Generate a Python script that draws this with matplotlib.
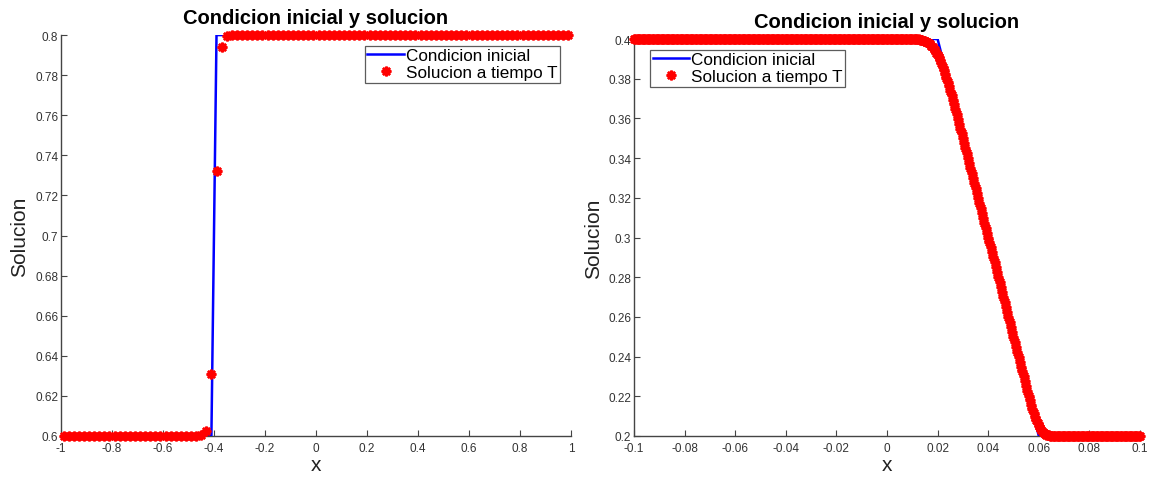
import numpy as np
import matplotlib
matplotlib.use("Agg")
import matplotlib.pyplot as plt

plt.rcParams["font.family"] = ["Liberation Sans", "DejaVu Sans"]

# left panel: discontinuity (cell centres, h = 0.02)
x_left = np.linspace(-0.99, 0.99, 100)
ic_left_x = [-0.99, -0.41, -0.39, 0.99]
ic_left_y = [0.6, 0.6, 0.8, 0.8]
sol_left = ([0.6] * 27
            + [0.6003, 0.6025, 0.631, 0.732, 0.794, 0.7993, 0.7999]
            + [0.8] * 66)

# right panel: ramp (h = 0.0005)
x_right = np.linspace(-0.1, 0.1, 401)
ic_right_x = [-0.1, 0.02, 0.06, 0.1]
ic_right_y = [0.4, 0.4, 0.2, 0.2]
ramp_top = [0.4000, 0.4000, 0.4000, 0.4000, 0.4000, 0.4000, 0.3999, 0.3999,
            0.3998, 0.3998, 0.3997, 0.3996, 0.3994, 0.3992, 0.3990, 0.3987,
            0.3983, 0.3979, 0.3974, 0.3967, 0.3960, 0.3952, 0.3943, 0.3932,
            0.3920, 0.3907, 0.3893, 0.3877, 0.3860, 0.3842, 0.3824, 0.3804,
            0.3783, 0.3762, 0.3740, 0.3717, 0.3694, 0.3671, 0.3647, 0.3623,
            0.3598, 0.3574, 0.3549, 0.3525, 0.3500]
ramp_mid = [0.3475, 0.345, 0.3425, 0.34, 0.3375, 0.335, 0.3325, 0.33,
            0.3275, 0.325, 0.3225, 0.32, 0.3175, 0.315, 0.3125, 0.31,
            0.3075, 0.305, 0.3025, 0.30, 0.2975, 0.295, 0.2925, 0.29,
            0.2875, 0.285, 0.2825, 0.28, 0.2775, 0.275, 0.2725, 0.27,
            0.2675, 0.265, 0.2625, 0.26, 0.2575, 0.255, 0.2525, 0.25,
            0.2475, 0.245, 0.2425, 0.24, 0.2375]
ramp_bot = [0.2350, 0.2325, 0.2300, 0.2275, 0.2251, 0.2227, 0.2203, 0.2180,
            0.2157, 0.2136, 0.2115, 0.2096, 0.2079, 0.2064, 0.2050, 0.2039,
            0.2029, 0.2021, 0.2015, 0.2010, 0.2007, 0.2005, 0.2003, 0.2002,
            0.2001]
sol_right = [0.4] * 216 + ramp_top + ramp_mid + ramp_bot + [0.2] * 70

left_xticks = [-1, -0.8, -0.6, -0.4, -0.2, 0, 0.2, 0.4, 0.6, 0.8, 1]
left_yticks = [0.6, 0.62, 0.64, 0.66, 0.68, 0.7, 0.72, 0.74, 0.76, 0.78, 0.8]
right_xticks = [-0.1, -0.08, -0.06, -0.04, -0.02, 0, 0.02, 0.04, 0.06, 0.08, 0.1]
right_yticks = [0.2, 0.22, 0.24, 0.26, 0.28, 0.3, 0.32, 0.34, 0.36, 0.38, 0.4]

title = "Condicion inicial y solucion"
labels = ["Condicion inicial", "Solucion a tiempo T"]
star = (8, 2, 0)

fig = plt.figure(figsize=(11.5, 4.81), dpi=100)
ax1 = fig.add_axes([0.053, 0.0915, 0.4435, 0.8335])
ax2 = fig.add_axes([0.5513, 0.0915, 0.44, 0.8253])


def style(ax, xt, yt, tpad):
    for s in ("top", "right"):
        ax.spines[s].set_visible(False)
    for s in ("left", "bottom"):
        ax.spines[s].set_color("#444444")
        ax.spines[s].set_linewidth(1.0)
    ax.set_xticks(xt)
    ax.set_yticks(yt)
    ax.set_xticklabels([f"{v:g}" for v in xt])
    ax.set_yticklabels([f"{v:g}" for v in yt])
    ax.set_xlim(xt[0], xt[-1])
    ax.set_ylim(yt[0], yt[-1])
    ax.tick_params(direction="in", length=4, width=0.8, colors="#444444",
                   labelsize=8.5, labelcolor="#333333", pad=2)
    ax.tick_params(axis="x", pad=4)
    ax.set_xlabel("x", fontsize=15, color="#222222", labelpad=1)
    ax.set_ylabel("Solucion", fontsize=15, color="#222222", labelpad=4)
    ax.set_title(title, fontsize=14.5, fontweight="bold", pad=tpad)


def add_legend(ax, loc, anchor):
    leg = ax.legend(loc=loc, bbox_to_anchor=anchor, fontsize=12.3,
                    fancybox=False, borderpad=0.15, handlelength=2.15,
                    handletextpad=0.1, labelspacing=0.1, borderaxespad=0)
    leg.get_frame().set_edgecolor("#333333")
    leg.get_frame().set_linewidth(0.9)


ax1.plot(ic_left_x, ic_left_y, color="blue", lw=1.8, label=labels[0], zorder=3)
ax1.plot(x_left, sol_left, ls="none", marker=star, ms=7, mew=1.8,
         color="red", mec="red", label=labels[1], clip_on=False, zorder=4)
style(ax1, left_xticks, left_yticks, 9)
add_legend(ax1, "upper right", (0.978, 0.973))

ax2.plot(ic_right_x, ic_right_y, color="blue", lw=1.8, label=labels[0], zorder=3)
ax2.plot(x_right, sol_right, ls="none", marker=star, ms=7, mew=1.8,
         color="red", mec="red", label=labels[1], clip_on=False, zorder=4)
style(ax2, right_xticks, right_yticks, 9)
add_legend(ax2, "upper left", (0.032, 0.973))

fig.savefig("out.png", dpi=100)
